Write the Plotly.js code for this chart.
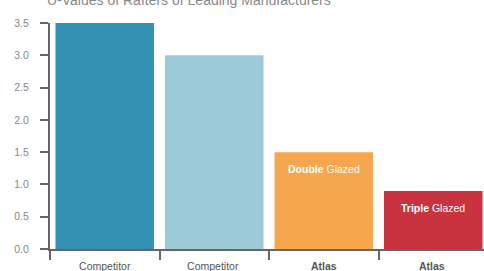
<!DOCTYPE html>
<html>
<head>
<meta charset="utf-8">
<script src="https://cdn.plot.ly/plotly-3.0.1.min.js"></script>
<style>
html,body{margin:0;padding:0;overflow:hidden;background:#fff;}
#chart{width:490px;height:271px;}
</style>
</head>
<body>
<div id="chart"></div>
<script>
const categories = ["Competitor", "Competitor ", "<b>Atlas</b>", "<b>Atlas</b> "];
const uValues = [3.5, 3.0, 1.5, 0.9];
const barColors = ["#3391b3", "#9dcad8", "#f6a74d", "#c8333f"];
const barLabels = ["", "", "<b>Double</b> Glazed", "<b>Triple</b> Glazed"];
const yTickVals = [0, 0.5, 1.0, 1.5, 2.0, 2.5, 3.0, 3.5];

const trace = {
  type: "bar",
  x: categories,
  y: uValues,
  marker: {color: barColors},
  hoverinfo: "none"
};

const annotations = [];
categories.forEach((c, i) => {
  if (barLabels[i]) {
    annotations.push({
      x: c, y: uValues[i], xref: "x", yref: "y",
      text: barLabels[i], showarrow: false,
      yanchor: "middle", yshift: -17,
      font: {family: "Liberation Sans, Arial, sans-serif", size: 10.5, color: "#ffffff"}
    });
  }
});

const layout = {
  width: 490, height: 271,
  margin: {l: 50, r: 2, t: 23, b: 22},
  paper_bgcolor: "#ffffff",
  plot_bgcolor: "#ffffff",
  bargap: 0.1,
  showlegend: false,
  font: {family: "Liberation Sans, Arial, sans-serif", size: 11, color: "#777"},
  title: {
    text: "U-Values of Rafters of Leading Manufacturers",
    x: 0, xref: "container", xanchor: "left",
    y: 1, yref: "container", yanchor: "middle",
    pad: {l: 47},
    font: {family: "Liberation Sans, Arial, sans-serif", size: 14, color: "#888"}
  },
  xaxis: {
    type: "category",
    tickson: "boundaries",
    ticks: "outside", ticklen: 9, tickwidth: 2, tickcolor: "#666",
    showline: true, linecolor: "#666", linewidth: 2,
    showgrid: false, zeroline: false,
    ticklabelstandoff: 6,
    tickfont: {size: 10.5, color: "#555"}
  },
  yaxis: {
    range: [0, 3.5],
    tickvals: yTickVals,
    tickformat: ".1f",
    ticks: "outside", ticklen: 8, tickwidth: 2, tickcolor: "#666",
    showline: true, linecolor: "#666", linewidth: 2,
    showgrid: false, zeroline: false,
    ticklabelstandoff: 9,
    tickfont: {size: 10.5, color: "#888"}
  },
  annotations: annotations
};

Plotly.newPlot("chart", [trace], layout, {displayModeBar: false, staticPlot: true});
</script>
</body>
</html>
